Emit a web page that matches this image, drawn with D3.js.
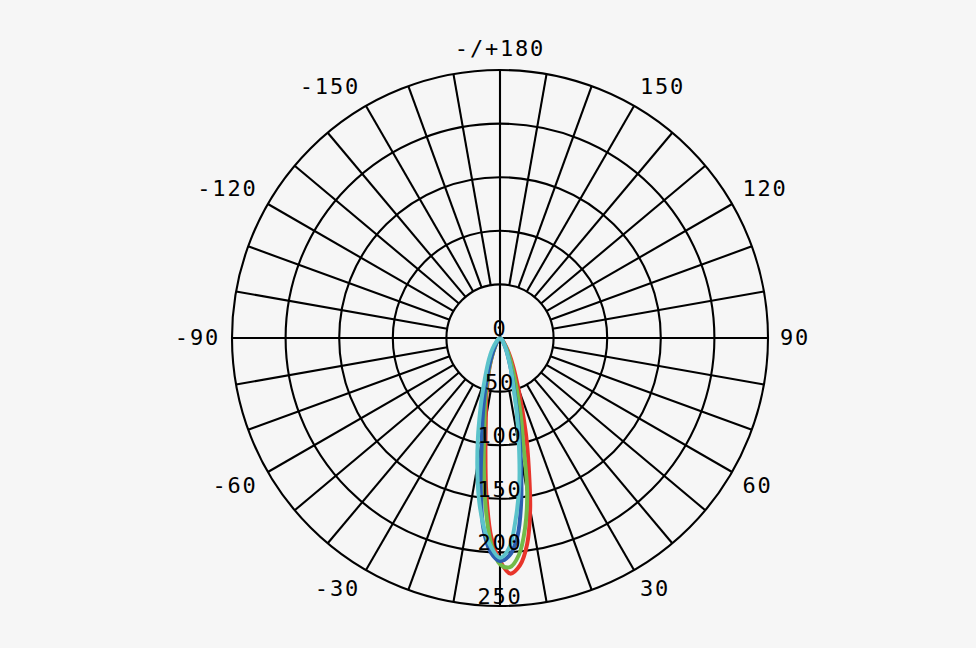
<!DOCTYPE html>
<html><head><meta charset="utf-8">
<script src="https://cdn.jsdelivr.net/npm/d3@7"></script>
<style>html,body{margin:0;background:#f6f6f6;}svg{display:block}</style>
</head><body><svg id="c" width="976" height="648"></svg>
<script>
// Gamma angles (degrees, 0 = straight down, positive to the right)
const angles = [-90,-60,-45,-35,-30,-25,-20,-17.5,-15,-12.5,-10,-7.5,-5,-2.5,0,2.5,5,7.5,10,12.5,15,17.5,20,25,30,35,45,60,90];
// Intensity series
const red   = [0,1,3,6,9,16,28,36,46,60,76,104,146,186,208,220,213,194,162,124,94,68,50,29,17,10,4,1,0];
const green = [0,1,3,6,9,16,29,38,50,65,84,116,156,192,211,214,203,179,146,100,75,54,40,23,14,8,3,1,0];
const blue  = [0,1,3,6,10,18,32,42,56,74,98,138,178,200,208,203,186,152,110,78,52,38,28,16,10,6,3,1,0];
const cyan  = [0,1,5,12,18,27,42,55,72,95,122,151,176,195,205,196,169,138,102,73,50,37,28,16,10,6,3,1,0];
const seriesNames = ["red","green","blue","cyan"];
const seriesColors = ["#e8352b","#72bb4a","#2b5fb0","#5cc3cb"];
// Grid / tick definitions
const ringValues = [50,100,150,200,250];
const radialLabels = ["0","50","100","150","200","250"];
const radialLabelValues = [0,50,100,150,200,250];
const spokeAngles = d3.range(-170,181,10);
const angleLabelValues = [180,150,120,90,60,30,-30,-60,-90,-120,-150];
const angleLabelTexts = ["-/+180","150","120","90","60","30","-30","-60","-90","-120","-150"];

const W=976,H=648,cx=500,cy=338;
const r = d3.scaleLinear().domain([0,250]).range([0,268]);
const toA = d => Math.PI - d*Math.PI/180; // d3 radial angle
const svg = d3.select("#c");
const g = svg.append("g").attr("transform",`translate(${cx},${cy})`);

const grid = g.append("g").attr("stroke","#000").attr("stroke-width",2.1).attr("fill","none");
grid.selectAll("circle").data(ringValues).join("circle").attr("r",d=>r(d));
grid.selectAll("line").data(spokeAngles).join("line")
  .attr("x1",d=>{const inner=(d%90===0)?0:r(50);return inner*Math.sin(d*Math.PI/180);})
  .attr("y1",d=>{const inner=(d%90===0)?0:r(50);return inner*Math.cos(d*Math.PI/180);})
  .attr("x2",d=>r(250)*Math.sin(d*Math.PI/180))
  .attr("y2",d=>r(250)*Math.cos(d*Math.PI/180));

const data = [red,green,blue,cyan];
const line = d3.lineRadial().angle((d,i)=>toA(angles[i])).radius(d=>r(d)).curve(d3.curveCatmullRom.alpha(0.5));
g.append("g").selectAll("path").data(data).join("path")
  .attr("d",d=>line(d)).attr("fill","none")
  .attr("stroke",(d,i)=>seriesColors[i]).attr("stroke-width",4).attr("stroke-linejoin","round");

const font = "'DejaVu Sans Mono', monospace";
const fs = 22, ls = 1.8;
g.append("g").selectAll("text").data(radialLabelValues).join("text")
  .attr("x",0).attr("y",d=>r(d)-2).attr("text-anchor","middle")
  .attr("font-family",font).attr("font-size",fs).attr("letter-spacing",ls).attr("fill","#000")
  .text((d,i)=>radialLabels[i]);

const LR = 280;
g.append("g").selectAll("text").data(angleLabelValues).join("text")
  .each(function(d,i){
    const a=d*Math.PI/180, s=Math.sin(a), c=Math.cos(a);
    const t=d3.select(this);
    t.attr("x",LR*s).attr("y",LR*c)
     .attr("text-anchor", s>0.01?"start":(s<-0.01?"end":"middle"))
     .attr("dy", c>0.01?"0.7em":(c<-0.01?"-0.08em":"0.34em"));
  })
  .attr("font-family",font).attr("font-size",fs).attr("letter-spacing",ls).attr("fill","#000")
  .text((d,i)=>angleLabelTexts[i]);
</script></body></html>
